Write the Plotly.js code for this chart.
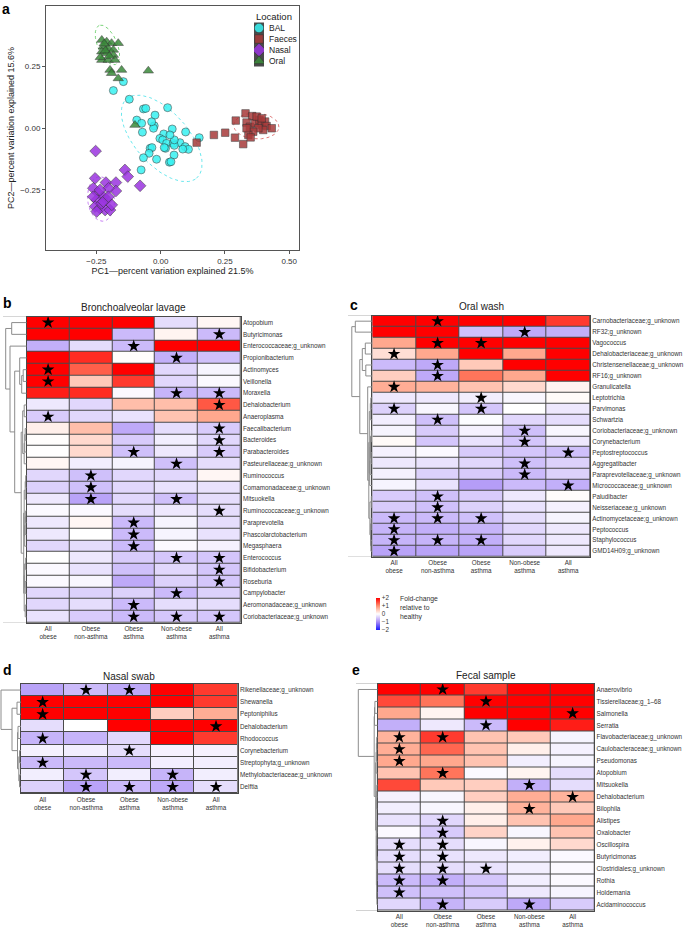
<!DOCTYPE html>
<html><head><meta charset="utf-8">
<script src="https://cdn.plot.ly/plotly-3.0.1.min.js"></script>
<style>body{margin:0;background:#fff}#chart{width:685px;height:928px}</style>
</head><body><div id="chart"></div>
<script>
// ---------- Panel a: PCA ----------
const balX = [-0.145,-0.184,-0.122,0.027,-0.067,-0.058,-0.093,-0.074,-0.022,-0.025,-0.028,-0.071,0.045,0.097,0.012,-0.003,0.008,0.023,0.049,0.075,0.095,0.108,0.086,0.053,0.019,-0.041,-0.034,-0.045,-0.067,-0.016,0.052,0.034,0.040,-0.076,0.150,0.053,0.036,0.014,-0.035];
const balY = [0.187,0.151,0.116,0.082,0.077,0.079,0.032,0.019,0.052,0.009,-0.001,-0.017,-0.004,-0.016,-0.024,-0.042,-0.048,-0.062,-0.062,-0.059,-0.075,-0.086,-0.085,-0.070,-0.082,-0.082,-0.079,-0.102,-0.120,-0.126,-0.109,-0.138,-0.136,-0.169,-0.039,-0.048,-0.028,-0.079,0.025];
const faecesX = [0.140,0.207,0.251,0.289,0.321,0.292,0.330,0.356,0.334,0.347,0.367,0.384,0.393,0.406,0.412,0.399,0.380,0.360,0.341,0.350,0.334,0.432,0.373,0.393];
const faecesY = [-0.059,-0.028,-0.019,-0.039,-0.065,0.030,0.059,0.048,0.022,0.005,0.019,0.032,0.012,0.026,0.008,-0.008,-0.001,-0.015,-0.028,-0.038,-0.001,-0.001,0.046,0.039];
const nasalX = [-0.253,-0.255,-0.213,-0.174,-0.139,-0.128,-0.080,-0.174,-0.203,-0.262,-0.242,-0.223,-0.249,-0.210,-0.255,-0.236,-0.216,-0.197,-0.229,-0.262,-0.236,-0.249,-0.223,-0.203,-0.190];
const nasalY = [-0.093,-0.203,-0.220,-0.220,-0.169,-0.196,-0.233,-0.254,-0.243,-0.243,-0.263,-0.277,-0.290,-0.290,-0.317,-0.324,-0.331,-0.331,-0.304,-0.277,-0.250,-0.337,-0.297,-0.277,-0.310];
const oralX = [-0.229,-0.210,-0.191,-0.165,-0.223,-0.204,-0.184,-0.229,-0.210,-0.184,-0.229,-0.204,-0.178,-0.197,-0.152,-0.191,-0.165,-0.048,-0.100,-0.220,-0.215,-0.200,-0.235];
const oralY = [0.355,0.348,0.342,0.342,0.328,0.321,0.315,0.308,0.301,0.294,0.274,0.274,0.274,0.234,0.234,0.221,0.200,0.231,0.012,0.340,0.312,0.290,0.285];
// confidence ellipses: BAL, Faeces, Nasal, Oral
const ellCx = [0.004, 0.372, -0.232, -0.207];
const ellCy = [-0.042, 0.008, -0.286, 0.335];
const ellA = [0.21, 0.088, 0.09, 0.085];
const ellB = [0.105, 0.052, 0.052, 0.038];
const ellAngle = [-50, -3, 95, 112];
const locationNames = ['BAL', 'Faeces', 'Nasal', 'Oral'];

// ---------- Heatmaps ----------
const groupLabels = ['All<br>obese','Obese<br>non-asthma','Obese<br>asthma','Non-obese<br>asthma','All<br>asthma'];

const balTaxa = ['Atopobium','Butyricimonas','Enterococcaceae;g_unknown','Propionibacterium','Actinomyces','Veillonella','Moraxella','Dehalobacterium','Anaeroplasma','Faecalibacterium','Bacteroides','Parabacteroides','Pasteurellaceae;g_unknown','Ruminococcus','Comamonadaceae;g_unknown','Mitsuokella','Ruminococcaceae;g_unknown','Paraprevotella','Phascolarctobacterium','Megasphaera','Enterococcus','Bifidobacterium','Roseburia','Campylobacter','Aeromonadaceae;g_unknown','Coriobacteriaceae;g_unknown'];
const balFold = [
[2,2,2,-0.3,0.08],[2,2,-0.6,0.1,-0.6],[-0.7,-0.3,-0.6,2,2],[2,1.7,0.02,-0.7,-0.55],[2,1.35,2,-0.35,-0.1],
[2,0.5,1.6,-0.35,-0.05],[1.8,1.7,-0.05,-0.65,-0.6],[-0.2,-0.35,0.6,0.6,1.4],[-0.45,-0.35,-0.25,0.55,0.8],
[0.15,0.6,-0.75,-0.3,-0.45],[0.02,0.35,-0.45,-0.15,-0.35],[0.01,0.35,-0.55,-0.2,-0.45],[0.08,-0.15,-0.1,-0.55,-0.3],
[-0.35,-0.55,-0.35,-0.35,0.08],[-0.4,-0.55,-0.35,-0.25,-0.25],[-0.2,-0.8,-0.35,-0.55,-0.3],[-0.05,-0.05,-0.3,-0.2,-0.3],
[-0.2,0.08,-0.6,-0.1,-0.3],[-0.2,0.0,-0.6,-0.1,-0.25],[-0.35,-0.3,-0.6,-0.05,-0.12],[0.0,-0.2,-0.45,-0.5,-0.5],
[-0.05,-0.25,-0.55,-0.35,-0.5],[-0.05,-0.08,-0.75,-0.4,-0.5],[-0.35,-0.4,-0.4,-0.6,-0.4],[-0.35,-0.3,-0.6,-0.3,-0.3],
[-0.25,-0.45,-0.6,-0.5,-0.5]];
const balSig = [
[1,0,0,0,0],[0,0,0,0,1],[0,0,1,0,0],[0,0,0,1,0],[1,0,0,0,0],[1,0,0,0,0],[0,0,0,1,1],[0,0,0,0,1],[1,0,0,0,0],
[0,0,0,0,1],[0,0,0,0,1],[0,0,1,0,1],[0,0,0,1,0],[0,1,0,0,0],[0,1,0,0,0],[0,1,0,1,0],[0,0,0,0,1],[0,0,1,0,0],
[0,0,1,0,0],[0,0,1,0,0],[0,0,0,1,1],[0,0,0,0,1],[0,0,0,0,1],[0,0,0,1,0],[0,0,1,0,0],[0,0,1,1,1]];
const balTree = [[0,1,15],[4,5,3.5],[27,6,5],[3,28,7],[7,8,2.5],[9,10,1.5],[31,11,2],[32,12,2.5],[30,33,4],
[13,14,1],[35,15,1.5],[16,17,1],[37,18,1.5],[38,19,2],[36,39,2.5],[20,21,1],[22,23,1.5],[41,42,2],[24,25,1.5],
[43,44,2.5],[40,45,3],[34,46,5.5],[29,47,12],[2,48,16.7],[26,49,21]];

const oralTaxa = ['Carnobacteriaceae;g_unknown','RF32;g_unknown','Vagococcus','Dehalobacteriaceae;g_unknown','Christensenellaceae;g_unknown','RF16;g_unknown','Granulicatella','Leptotrichia','Parvimonas','Schwartzia','Coriobacteriaceae;g_unknown','Corynebacterium','Peptostreptococcus','Aggregatibacter','Paraprevotellaceae;g_unknown','Micrococcaceae;g_unknown','Paludibacter','Neisseriaceae;g_unknown','Actinomycetaceae;g_unknown','Peptococcus','Staphylococcus','GMD14H09;g_unknown'];
const oralFold = [
[2,2,2,2,1.6],[2,2,-0.55,-0.75,-0.7],[0.8,2,2,2,2],[0.3,0.8,2,0.8,2],[-0.6,-0.75,0.5,2,2],[0.45,-0.75,1.2,0.8,2],
[0.75,0.7,0.55,0.35,0.1],[-0.2,-0.2,-0.15,-0.08,0.04],[-0.4,-0.08,-0.5,0,-0.2],[-0.15,-0.55,-0.03,-0.35,-0.3],
[-0.1,-0.45,-0.12,-0.55,-0.08],[0.05,-0.5,-0.25,-0.5,-0.2],[-0.12,-0.05,-0.45,-0.5,-0.55],[-0.2,-0.25,-0.35,-0.55,-0.4],
[-0.12,-0.4,-0.45,-0.6,-0.4],[-0.1,-0.25,-0.85,-0.6,-0.7],[-0.45,-0.55,-0.45,-0.2,0.03],[-0.45,-0.55,-0.4,-0.25,-0.12],
[-0.6,-0.6,-0.55,-0.3,-0.1],[-0.65,-0.7,-0.65,-0.35,-0.2],[-0.65,-0.65,-0.7,-0.35,-0.2],[-0.8,-0.8,-0.8,-0.45,-0.2]];
const oralSig = [
[0,1,0,0,0],[0,0,0,1,0],[0,1,1,0,0],[1,0,0,0,0],[0,1,0,0,0],[0,1,0,0,0],[1,0,0,0,0],[0,0,1,0,0],[1,0,1,0,0],
[0,1,0,0,0],[0,0,0,1,0],[0,0,0,1,0],[0,0,0,0,1],[0,0,0,1,0],[0,0,0,1,0],[0,0,0,0,1],[0,1,0,0,0],[0,1,0,0,0],
[1,1,1,0,0],[1,0,0,0,0],[1,1,1,0,0],[1,0,0,0,0]];
const oralTree = [[0,1,17],[2,3,7],[4,5,6.5],[23,24,10],[7,8,1.5],[26,9,2],[10,11,1],[12,13,1.2],[28,29,1.8],
[30,14,2.2],[31,15,2.6],[27,32,3],[16,17,1],[18,19,1.2],[20,21,1.4],[35,36,1.8],[34,37,2.4],[33,38,3.5],
[6,39,4.6],[25,40,12.5],[22,41,20.5]];

const nasalTaxa = ['Rikenellaceae;g_unknown','Shewanella','Peptoniphilus','Dehalobacterium','Rhodococcus','Corynebacterium','Streptophyta;g_unknown','Methylobacteriaceae;g_unknown','Delftia'];
const nasalFold = [
[-0.8,-0.6,-0.75,2,1.6],[2,2,2,2,1.6],[2,2,2,0.45,0.75],[-0.3,0,2,2,2],[-0.65,-0.65,-0.35,2,1.6],
[-0.12,-0.15,-0.3,-0.12,-0.12],[-0.6,-0.6,-0.6,-0.15,-0.15],[-0.15,-0.5,-0.15,-0.65,-0.15],[-0.4,-0.8,-0.6,-0.75,-0.3]];
const nasalSig = [[0,1,1,0,0],[1,0,0,0,0],[1,0,0,0,0],[0,0,0,0,1],[1,0,0,0,0],[0,0,1,0,0],[1,0,0,0,0],[0,1,0,1,0],[0,1,1,1,1]];
const nasalTree = [[1,2,4],[3,4,3],[5,6,1.5],[7,8,1.5],[11,12,2.2],[10,13,3.5],[9,14,9],[0,15,20]];

const fecalTaxa = ['Anaerovibrio','Tissierellaceae;g_1–68','Salmonella','Serratia','Flavobacteriaceae;g_unknown','Caulobacteraceae;g_unknown','Pseudomonas','Atopobium','Mitsuokella','Dehalobacterium','Bilophila','Alistipes','Oxalobacter','Oscillospira','Butyricimonas','Clostridiales;g_unknown','Rothia','Holdemania','Acidaminococcus'];
const fecalFold = [
[2,2,1.6,2,2],[1.5,1.2,2,2,2],[0.8,0.1,2,2,2],[-0.7,-0.2,-0.6,2,1.8],[0.7,1.6,0.55,0.5,-0.1],[0.75,1.3,0.55,0.15,-0.12],
[0.8,0.8,0.55,-0.15,-0.1],[0.55,1.2,-0.05,0.1,-0.3],[1.5,0.5,0.45,-0.7,-0.3],[-0.12,-0.08,0.45,0.75,0.7],
[-0.15,-0.08,0.15,0.7,0.5],[-0.25,-0.35,0.15,0.55,0.8],[-0.05,-0.45,0.4,-0.08,0.55],[-0.3,-0.3,-0.08,0.12,0.35],
[-0.3,-0.25,-0.2,-0.15,-0.05],[-0.3,-0.3,-0.25,-0.15,-0.05],[-0.6,-0.7,-0.5,-0.15,-0.05],[-0.55,-0.55,-0.5,-0.2,-0.1],
[-0.35,-0.65,-0.45,-0.75,-0.45]];
const fecalSig = [
[0,1,0,0,0],[0,0,1,0,0],[0,0,0,0,1],[0,0,1,0,0],[1,1,0,0,0],[1,0,0,0,0],[1,0,0,0,0],[0,1,0,0,0],[0,0,0,1,0],
[0,0,0,0,1],[0,0,0,1,0],[0,1,0,0,0],[0,1,0,0,0],[1,1,0,0,0],[1,1,0,0,0],[1,1,1,0,0],[1,1,0,0,0],[1,0,0,0,0],[0,1,0,1,0]];
const fecalTree = [[1,2,2.8],[19,3,3.2],[4,5,1],[21,6,1.3],[22,7,1.6],[8,9,0.8],[24,10,1],[11,12,0.7],[26,13,0.9],
[14,15,0.5],[28,16,0.7],[17,18,0.8],[29,30,1.1],[27,31,1.3],[25,32,1.5],[23,33,2],[20,34,3.5],[0,35,19.4]];

// ---------- helpers ----------
const W = 685, H = 928;
const P = px => px / W, Q = py => 1 - py / H;
const FONT = 'Liberation Sans, Arial, Helvetica, sans-serif';
const cscale = [[0,'#1a1aff'],[0.25,'#a88cf6'],[0.5,'#ffffff'],[0.75,'#ff9272'],[1,'#ff0000']];

const traces = [];
const layout = {
  width: W, height: H, margin: {l:0, r:0, t:0, b:0},
  paper_bgcolor: '#ffffff', plot_bgcolor: '#4a4a4a',
  font: {family: FONT, color: '#222'},
  showlegend: false,
  shapes: [], annotations: []
};

// panel a
const pcaStyle = [
  {symbol:'circle', color:'#38f2f2', ell:'#6ae8ee', size:8, lsize:9.5},
  {symbol:'square', color:'#a83a3a', ell:'#e07a7a', size:7.5, lsize:8.5},
  {symbol:'diamond', color:'#9b35e0', ell:'#c67af5', size:9, lsize:10.5},
  {symbol:'triangle-up', color:'#3a8a3a', ell:'#7ad47a', size:9, lsize:10.5}
];
const pcaX = [balX, faecesX, nasalX, oralX], pcaY = [balY, faecesY, nasalY, oralY];
pcaStyle.forEach((g, i) => {
  const ex = [], ey = [];
  const th = ellAngle[i] * Math.PI / 180;
  for (let k = 0; k <= 120; k++) {
    const t = 2 * Math.PI * k / 120;
    const u = ellA[i] * Math.cos(t), v = ellB[i] * Math.sin(t);
    ex.push(ellCx[i] + u * Math.cos(th) - v * Math.sin(th));
    ey.push(ellCy[i] + u * Math.sin(th) + v * Math.cos(th));
  }
  traces.push({type:'scatter', mode:'lines', x:ex, y:ey, xaxis:'x', yaxis:'y', hoverinfo:'skip',
    line:{color:g.ell, width:1, dash:'dot'}});
});
pcaStyle.forEach((g, i) => {
  traces.push({type:'scatter', mode:'markers', name:locationNames[i], x:pcaX[i], y:pcaY[i], xaxis:'x', yaxis:'y',
    marker:{symbol:g.symbol, size:g.size, color:g.color, opacity:0.85, line:{color:'#333', width:0.6}}});
});
layout.xaxis = {domain:[P(46), P(299)], anchor:'y', range:[-0.446, 0.538], showgrid:false, zeroline:false,
  showline:true, mirror:true, linecolor:'#555', linewidth:1, ticks:'outside', ticklen:3, tickcolor:'#555',
  tickvals:[-0.25,0,0.25,0.5], ticktext:['−0.25','0.00','0.25','0.50'], tickfont:{size:8, color:'#333'},
  title:{text:'PC1—percent variation explained 21.5%', font:{size:9, color:'#222'}, standoff:2}};
layout.yaxis = {domain:[Q(250), Q(6)], anchor:'x', range:[-0.492, 0.492], showgrid:false, zeroline:false,
  showline:true, mirror:true, linecolor:'#555', linewidth:1, ticks:'outside', ticklen:3, tickcolor:'#555',
  tickvals:[-0.25,0,0.25], ticktext:['−0.25','0.00','0.25'], tickfont:{size:8, color:'#333'},
  title:{text:'PC2—percent variation explained 15.6%', font:{size:9, color:'#222'}, standoff:4}};
layout.shapes.push({type:'rect', xref:'x domain', yref:'y domain', x0:0, x1:1, y0:0, y1:1, layer:'below',
  fillcolor:'#ffffff', line:{width:0}});

// manual legend for panel a (one marker per location, stacked by index)
pcaStyle.forEach((g, i) => {
  traces.push({type:'scatter', mode:'markers', x:[0], y:[i], xaxis:'x10', yaxis:'y10', hoverinfo:'skip',
    marker:{symbol:g.symbol, size:g.lsize, color:g.color, opacity:0.85, line:{color:'#333', width:0.6}}});
  layout.annotations.push({xref:'paper', yref:'paper', x:P(267), y:Q(28 + 11 * i), text:locationNames[i],
    showarrow:false, xanchor:'left', yanchor:'middle', font:{size:8.5, color:'#222'}});
});
layout.xaxis10 = {domain:[P(254), P(264)], anchor:'y10', range:[-1, 1], visible:false, fixedrange:true};
layout.yaxis10 = {domain:[Q(66.5), Q(22.5)], anchor:'x10', range:[3.5, -0.5], visible:false, fixedrange:true};
layout.shapes.push({type:'rect', xref:'x10 domain', yref:'y10 domain', x0:0, x1:1, y0:0, y1:1, layer:'below',
  fillcolor:'#ffffff', line:{width:0}});
layout.annotations.push({xref:'paper', yref:'paper', x:P(254), y:Q(17), text:'Location', showarrow:false,
  xanchor:'left', yanchor:'middle', font:{size:9.5, color:'#222'}});

// heatmap panels
const panels = [
  {letter:'b', title:'Bronchoalveolar lavage', taxa:balTaxa, fold:balFold, sig:balSig, tree:balTree,
   hx:[26.7,240.7], hy:[316.7,622.7], dx:[3,26.7], letterPos:[1,303], titleY:307.5, scale:false},
  {letter:'c', title:'Oral wash', taxa:oralTaxa, fold:oralFold, sig:oralSig, tree:oralTree,
   hx:[372.3,590], hy:[315.7,556.7], dx:[348,372.3], letterPos:[348,305], titleY:307, scale:true},
  {letter:'d', title:'Nasal swab', taxa:nasalTaxa, fold:nasalFold, sig:nasalSig, tree:nasalTree,
   hx:[21,237.7], hy:[684,793], dx:[0,21], letterPos:[1,670], titleY:676, scale:false},
  {letter:'e', title:'Fecal sample', taxa:fecalTaxa, fold:fecalFold, sig:fecalSig, tree:fecalTree,
   hx:[377.7,594.3], hy:[683.5,910.5], dx:[356,377.7], letterPos:[350,670], titleY:675.5, scale:false}
];

panels.forEach((p, idx) => {
  const hi = 2 + idx * 2, di = hi + 1;
  const xa = 'x' + hi, ya = 'y' + hi, xd = 'x' + di, yd = 'y' + di;
  const n = p.taxa.length;
  const rows = p.taxa.map((_, i) => i);
  const cols = groupLabels.map((_, j) => j);
  const hm = {type:'heatmap', z:p.fold, x:cols, y:rows, xaxis:xa, yaxis:ya, zmin:-2, zmax:2,
    colorscale:cscale, xgap:1, ygap:1, hoverinfo:'skip', showscale:p.scale};
  if (p.scale) {
    hm.colorbar = {x:P(376), xanchor:'left', y:Q(613.5), yanchor:'middle', len:32, lenmode:'pixels',
      thickness:4, thicknessmode:'pixels', outlinewidth:0, xpad:0, ypad:0, ticks:'',
      tickvals:[-2,-1,0,1,2], ticktext:['−2','−1','0','+1','+2'], tickfont:{size:6.3, color:'#333'}};
  }
  traces.push(hm);
  const sx = [], sy = [];
  p.sig.forEach((r, i) => r.forEach((s, j) => { if (s) { sx.push(j); sy.push(i); } }));
  traces.push({type:'scatter', mode:'markers', x:sx, y:sy, xaxis:xa, yaxis:ya, hoverinfo:'skip',
    marker:{symbol:'star', size:9.5, color:'#000', line:{width:0}}});
  // dendrogram
  const pos = rows.slice(), hgt = rows.map(() => 0);
  const lx = [], ly = [];
  p.tree.forEach((m, k) => {
    const [a, b, h] = m, id = n + k;
    lx.push(hgt[a], h, h, hgt[b], null);
    ly.push(pos[a], pos[a], pos[b], pos[b], null);
    pos[id] = (pos[a] + pos[b]) / 2; hgt[id] = h;
  });
  traces.push({type:'scatter', mode:'lines', x:lx, y:ly, xaxis:xd, yaxis:yd, hoverinfo:'skip',
    line:{color:'#8c8c8c', width:1}});

  layout['xaxis' + hi] = {domain:[P(p.hx[0]), P(p.hx[1])], anchor:ya, range:[-0.5, 4.5], showgrid:false, zeroline:false,
    showline:true, mirror:true, linecolor:'#4a4a4a', linewidth:1, ticks:'', tickvals:cols, ticktext:groupLabels,
    tickfont:{size:6.3, color:'#333'}, fixedrange:true};
  layout['yaxis' + hi] = {domain:[Q(p.hy[1]), Q(p.hy[0])], anchor:xa, range:[n - 0.5, -0.5], side:'right',
    showgrid:false, zeroline:false, showline:true, mirror:true, linecolor:'#4a4a4a', linewidth:1, ticks:'',
    tickvals:rows, ticktext:p.taxa, tickfont:{size:6.3, color:'#333'}, fixedrange:true};
  const dw = p.dx[1] - p.dx[0];
  layout['xaxis' + di] = {domain:[P(p.dx[0]), P(p.dx[1])], anchor:yd, range:[dw, 0], visible:false, fixedrange:true};
  layout['yaxis' + di] = {domain:[Q(p.hy[1]), Q(p.hy[0])], anchor:xd, range:[n - 0.5, -0.5], visible:false, fixedrange:true};
  layout.shapes.push({type:'rect', xref:xd + ' domain', yref:yd + ' domain', x0:0, x1:1, y0:0, y1:1, layer:'below',
    fillcolor:'#ffffff', line:{width:0}});
  layout.annotations.push({xref:'paper', yref:'paper', x:P((p.hx[0] + p.hx[1]) / 2), y:Q(p.titleY),
    text:p.title, showarrow:false, xanchor:'center', yanchor:'middle', font:{size:10, color:'#222'}});
  layout.annotations.push({xref:'paper', yref:'paper', x:P(p.letterPos[0]), y:Q(p.letterPos[1]),
    text:'<b>' + p.letter + '</b>', showarrow:false, xanchor:'left', yanchor:'middle', font:{size:14, color:'#000'}});
});

layout.annotations.push({xref:'paper', yref:'paper', x:P(0), y:Q(-1), text:'<b>a</b>', showarrow:false,
  xanchor:'left', yanchor:'top', font:{size:14, color:'#000'}});
layout.annotations.push({xref:'paper', yref:'paper', x:P(398), y:Q(593), text:'Fold-change<br>relative to<br>healthy',
  showarrow:false, xanchor:'left', yanchor:'top', align:'left', font:{size:6.8, color:'#333'}});

Plotly.newPlot('chart', traces, layout, {displayModeBar:false, staticPlot:true});
</script>
</body></html>
